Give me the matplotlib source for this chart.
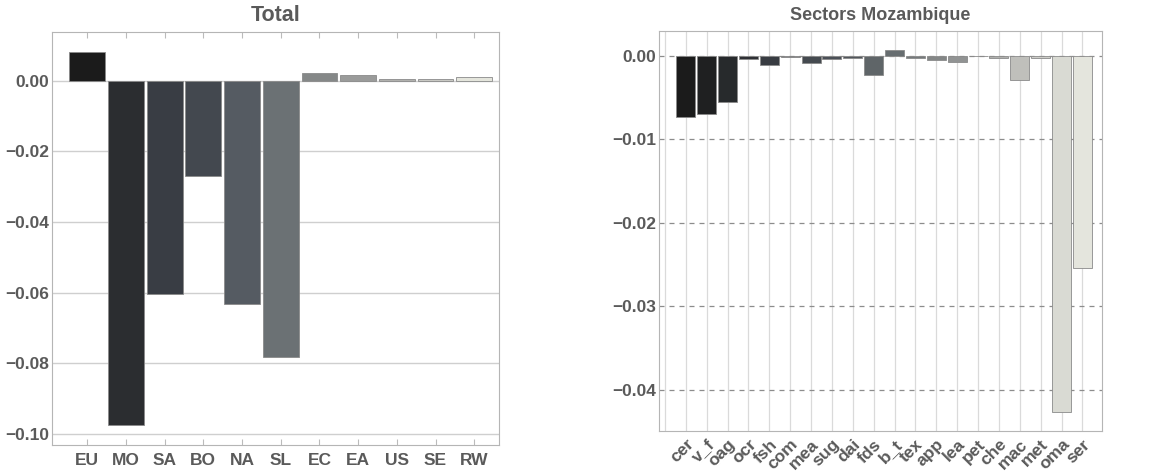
import numpy as np
import matplotlib
matplotlib.use('Agg')
import matplotlib.pyplot as plt
import matplotlib.transforms as mtrans

# data
regions = ['EU', 'MO', 'SA', 'BO', 'NA', 'SL', 'EC', 'EA', 'US', 'SE', 'RW']
total = [0.0080, -0.0973, -0.0604, -0.0270, -0.0632, -0.0782,
         0.0021, 0.0015, 0.0005, 0.0005, 0.0011]

sectors = ['cer', 'v_f', 'oag', 'ocr', 'fsh', 'com', 'mea', 'sug', 'dai', 'fds',
           'b_t', 'tex', 'app', 'lea', 'pet', 'che', 'mac', 'met', 'oma', 'ser']
mozambique = [-0.00736, -0.00692, -0.00548, -0.00036, -0.00108, -0.00016,
              -0.00084, -0.00040, -0.00020, -0.00224, 0.00068, -0.00028,
              -0.00052, -0.00076, -0.00004, -0.00028, -0.00284, -0.00028,
              -0.04265, -0.02546]

left_colors = ['#1b1b1b', '#2b2d30', '#393d44', '#43484f', '#555b62', '#6b7174',
               '#858888', '#9a9b9a', '#b0b0ad', '#c8c8c3', '#e4e5dc']
right_colors = ['#1b1b1b', '#1f2021', '#272a2c', '#2e3034', '#383c42', '#3e4248',
                '#454a50', '#4b5057', '#51565c', '#5f6568', '#676d70', '#757a7c',
                '#838686', '#919393', '#a0a1a0', '#afb0ad', '#bfbfbb', '#cdcdc8',
                '#d9dad3', '#e4e5dd']

txt = '#5a5a5a'
plt.rcParams['font.family'] = ['Liberation Sans', 'DejaVu Sans']
plt.rcParams['font.weight'] = 'bold'

fig = plt.figure(figsize=(11.49, 4.71), dpi=100)

# ---- left panel: Total
ax1 = fig.add_axes([0.0453, 0.0552, 0.389, 0.8775])
x1 = np.arange(len(regions))
ax1.bar(x1, total, width=0.925, color=left_colors, edgecolor='#8a8a8a', linewidth=0.6, zorder=3)
ax1.set_xlim(-0.91, 10.64)
ax1.set_ylim(-0.1031, 0.01387)
ax1.set_yticks([0, -0.02, -0.04, -0.06, -0.08, -0.10])
ax1.set_yticklabels(['0.00', '\u22120.02', '\u22120.04', '\u22120.06', '\u22120.08', '\u22120.10'])
ax1.set_xticks(x1)
ax1.set_xticklabels(regions)
ax1.grid(axis='y', color='#cfcfcf', linewidth=1.0, zorder=0)
ax1.tick_params(axis='x', direction='in', length=4, color='#bbbbbb', top=True, pad=6,
                labelsize=12.5, labelcolor=txt)
ax1.tick_params(axis='y', length=0, pad=2, labelsize=12.5, labelcolor=txt)
for s in ax1.spines.values():
    s.set_color('#b5b5b5')
ax1.set_title('Total', fontsize=15.5, color=txt, fontweight='bold', pad=8)

# ---- right panel: Sectors Mozambique
ax2 = fig.add_axes([0.5735, 0.0849, 0.3853, 0.8499])
x2 = np.arange(len(sectors))
ax2.bar(x2, mozambique, width=0.91, color=right_colors, edgecolor='#8a8a8a', linewidth=0.6, zorder=3)
ax2.set_xlim(-1.29, 19.92)
ax2.set_ylim(-0.04496, 0.00304)
ax2.set_yticks([0, -0.01, -0.02, -0.03, -0.04])
ax2.set_yticklabels(['0.00', '\u22120.01', '\u22120.02', '\u22120.03', '\u22120.04'])
ax2.set_xticks(x2)
ax2.set_xticklabels(sectors, rotation=45, ha='right', rotation_mode='anchor')
offset = mtrans.ScaledTranslation(8 / 72, 0, fig.dpi_scale_trans)
for lab in ax2.get_xticklabels():
    lab.set_transform(lab.get_transform() + offset)
for xv in [-1] + list(x2):
    ax2.axvline(xv, color='#dadada', linewidth=0.9, zorder=0)
ax2.grid(axis='y', color='#8c8c8c', linewidth=0.9, linestyle=(0, (4, 4)), zorder=1)
ax2.tick_params(axis='x', length=0, pad=4, labelsize=12.5, labelcolor=txt)
ax2.tick_params(axis='y', length=0, pad=2, labelsize=12.5, labelcolor=txt)
for s in ax2.spines.values():
    s.set_color('#b5b5b5')
ax2.set_title('Sectors Mozambique', fontsize=13, color=txt, fontweight='bold', pad=8)

fig.savefig('out.png', dpi=100)
